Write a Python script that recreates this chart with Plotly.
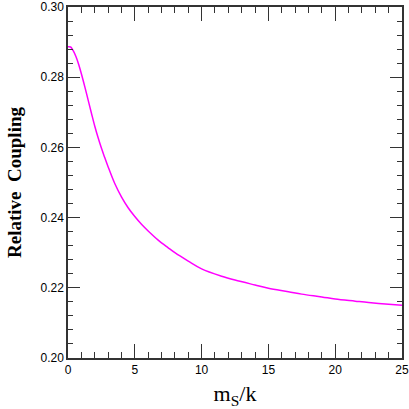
import plotly.graph_objects as go

# relative coupling vs m_S/k
ms_over_k = [0, 0.2, 0.4, 0.6, 0.8, 1.0, 1.25, 1.5, 1.75, 2.0, 2.25, 2.5, 2.75, 3.0,
             3.5, 4.0, 4.5, 5.0, 5.5, 6.0, 6.75, 7.5, 8.0, 9.0, 10.0, 11.5, 12.5,
             14.0, 15.0, 16.5, 17.5, 19.0, 20.0, 21.5, 22.5, 24.0, 25.0]
coupling = [0.2887, 0.2886, 0.2875, 0.2858, 0.2836, 0.2810, 0.2774, 0.2736, 0.2698,
            0.2661, 0.2628, 0.2598, 0.2571, 0.2545, 0.2497, 0.2459, 0.2428, 0.2403,
            0.2381, 0.2362, 0.2336, 0.2314, 0.2300, 0.2276, 0.2254, 0.2233, 0.2222,
            0.2208, 0.2199, 0.2189, 0.2182, 0.2174, 0.2168, 0.2162, 0.2158, 0.2153, 0.2150]

x_ticks = [0, 5, 10, 15, 20, 25]
y_ticks = [0.20, 0.22, 0.24, 0.26, 0.28, 0.30]

fig = go.Figure()
fig.add_trace(go.Scatter(
    x=ms_over_k, y=coupling, mode="lines",
    line=dict(color="#ff00ff", width=1.5, shape="spline", smoothing=1),
    showlegend=False,
))

tick_font = dict(family="Liberation Sans Narrow, Liberation Sans, Arial", size=12, color="black")

fig.update_xaxes(
    range=[0, 25], tickvals=x_ticks, ticktext=[str(v) for v in x_ticks],
    ticks="inside", ticklen=14, tickwidth=1.2, tickcolor="#333",
    minor=dict(dtick=1, ticks="inside", ticklen=6, tickwidth=1.2, tickcolor="#333"),
    showline=True, linecolor="#333", linewidth=1.5, mirror="ticks",
    showgrid=False, zeroline=False, tickfont=tick_font, automargin=False,
    title=dict(text="m<sub>S</sub>/k", standoff=12,
               font=dict(family="Liberation Serif, Times New Roman, serif", size=22, color="black")),
)
fig.update_yaxes(
    range=[0.20, 0.30], tickvals=y_ticks, ticktext=["%.2f" % v for v in y_ticks],
    ticks="inside", ticklen=12, tickwidth=1.2, tickcolor="#333",
    minor=dict(dtick=0.004, ticks="inside", ticklen=5, tickwidth=1.2, tickcolor="#333"),
    showline=True, linecolor="#333", linewidth=1.5, mirror="ticks",
    showgrid=False, zeroline=False, tickfont=tick_font, automargin=False,
    title=dict(text="<b>Relative  Coupling</b>", standoff=14,
               font=dict(family="Liberation Serif, Times New Roman, serif", size=19, color="black")),
)

fig.update_layout(
    width=409, height=409,
    margin=dict(l=68, r=7, t=7, b=51),
    paper_bgcolor="white", plot_bgcolor="white",
)

# drop the page's default body margin so the figure sits at the window corner
fig.write_html("out.html", config={"displayModeBar": False},
               post_script="document.body.style.margin='0px';")
